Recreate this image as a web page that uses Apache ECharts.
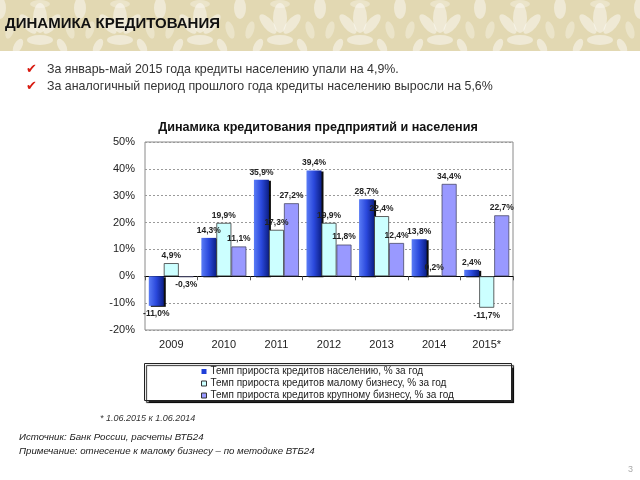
<!DOCTYPE html>
<html><head><meta charset="utf-8">
<script src="https://cdn.jsdelivr.net/npm/echarts@6/dist/echarts.min.js"></script>
<style>html,body{margin:0;padding:0;background:#fff}#c{width:640px;height:480px}</style>
</head><body><div id="c"></div>
<script>
const years = ['2009','2010','2011','2012','2013','2014','2015*'];
const population = [-11.0, 14.3, 35.9, 39.4, 28.7, 13.8, 2.4];
const smallBiz = [4.9, 19.9, 17.3, 19.9, 22.4, 0.2, -11.7];
const largeBiz = [-0.3, 11.1, 27.2, 11.8, 12.4, 34.4, 22.7];
const seriesNames = ['Темп прироста кредитов населению, % за год','Темп прироста кредитов малому бизнесу, % за год','Темп прироста кредитов крупному бизнесу, % за год'];

const FONT = 'Liberation Sans, Arial, sans-serif';
function fmt(v){ return v.toFixed(1).replace('.', ',') + '%'; }
function items(arr){
  return arr.map(v => ({ value: v, label: { position: v < 0 ? 'bottom' : 'top' } }));
}
// header pattern
const pc = document.createElement('canvas'); pc.width = 80; pc.height = 52;
const g = pc.getContext('2d');
g.fillStyle = '#e2d8b2'; g.fillRect(0,0,80,52);
g.fillStyle = 'rgba(255,255,255,0.45)';
function leaf(x,y,rx,ry,rot){ g.beginPath(); g.ellipse(x,y,rx,ry,rot,0,Math.PI*2); g.fill(); }
leaf(40,18,7,15,0); leaf(28,24,5,12,-0.7); leaf(52,24,5,12,0.7); leaf(40,40,13,5,0);
leaf(0,8,6,11,0); leaf(80,8,6,11,0); leaf(18,46,4,8,0.5); leaf(62,46,4,8,-0.5);
g.fillStyle = 'rgba(255,255,255,0.3)'; leaf(10,30,4,9,0.3); leaf(70,30,4,9,-0.3); leaf(40,4,10,4,0);

const labelCommon = { show: true, formatter: p => fmt(p.value), fontFamily: FONT, fontSize: 8.5, fontWeight: 'bold', color: '#222', distance: 3 };

const chart = echarts.init(document.getElementById('c'), null, { renderer: 'canvas' });
chart.setOption({
  animation: false,
  backgroundColor: '#fff',
  textStyle: { fontFamily: FONT },
  title: {
    text: 'Динамика кредитования предприятий и населения',
    left: 313, top: 116, textAlign: 'center',
    textStyle: { fontFamily: FONT, fontSize: 12.6, fontWeight: 'bold', color: '#111' }
  },
  grid: { left: 145, right: 127, top: 142, bottom: 150, show: true, borderColor: '#8a8a8a', borderWidth: 1 },
  xAxis: [
    { type: 'category', data: years, position: 'bottom',
      axisLine: { show: false, onZero: false }, axisTick: { show: false },
      axisLabel: { color: '#222', fontSize: 11, fontFamily: FONT, margin: 9 } },
    { type: 'category', data: years, position: 'bottom',
      axisLine: { show: true, onZero: true, lineStyle: { color: '#000', width: 1 } },
      axisTick: { show: true, length: 4, lineStyle: { color: '#555' } },
      axisLabel: { show: false } }
  ],
  yAxis: {
    type: 'value', min: -20, max: 50, interval: 10,
    axisLine: { show: false }, axisTick: { show: false },
    axisLabel: { formatter: '{value}%', color: '#222', fontSize: 11, fontFamily: FONT, margin: 10 },
    splitLine: { lineStyle: { color: '#9a9a9a', type: [2, 2], width: 1 } }
  },
  legend: {
    orient: 'vertical', left: 201, top: 366, padding: 0, itemWidth: 5, itemHeight: 5, itemGap: 1, z: 10,
    icon: 'rect',
    textStyle: { fontFamily: FONT, fontSize: 10, color: '#222', padding: [0,0,0,-1], lineHeight: 11 },
    data: [
      { name: seriesNames[0], itemStyle: { color: '#1f3fd8', borderWidth: 0 } },
      { name: seriesNames[1], itemStyle: { color: '#ccffff', borderColor: '#333', borderWidth: 1 } },
      { name: seriesNames[2], itemStyle: { color: '#9999ff', borderColor: '#333', borderWidth: 1 } }
    ]
  },
  series: [
    { name: seriesNames[0], type: 'bar', data: items(population), barWidth: 15, barGap: '0%',
      itemStyle: {
        color: new echarts.graphic.LinearGradient(0,0,1,0,[{offset:0,color:'#5a7cf6'},{offset:0.5,color:'#2a48dc'},{offset:1,color:'#0c1f86'}]),
        shadowColor: 'rgba(0,0,0,0.95)', shadowOffsetX: 2, shadowOffsetY: 1, shadowBlur: 0
      },
      label: labelCommon },
    { name: seriesNames[1], type: 'bar', data: items(smallBiz), barWidth: 15,
      itemStyle: { color: '#ccffff', borderColor: '#3a3a3a', borderWidth: 0.8 },
      label: labelCommon },
    { name: seriesNames[2], type: 'bar', data: items(largeBiz), barWidth: 15,
      itemStyle: { color: '#9999ff', borderColor: '#4a4a6a', borderWidth: 0.8 },
      label: labelCommon }
  ],
  graphic: [
    { type: 'rect', z: -10, shape: { x: 0, y: 0, width: 640, height: 51 },
      style: { fill: { image: pc, repeat: 'repeat' } } },
    { type: 'text', z: 5, left: 5, top: 16,
      style: { text: 'ДИНАМИКА КРЕДИТОВАНИЯ', font: 'bold 15px ' + FONT, fill: '#111' } },
    { type: 'text', z: 5, left: 26, top: 63,
      style: { text: '✔', font: '13px DejaVu Sans', fill: '#d81a10' } },
    { type: 'text', z: 5, left: 26, top: 80,
      style: { text: '✔', font: '13px DejaVu Sans', fill: '#d81a10' } },
    { type: 'text', z: 5, left: 47, top: 64,
      style: { text: 'За январь-май 2015 года кредиты населению упали на 4,9%.', font: '12.4px ' + FONT, fill: '#333' } },
    { type: 'text', z: 5, left: 47, top: 81,
      style: { text: 'За аналогичный период прошлого года кредиты населению выросли на 5,6%', font: '12.4px ' + FONT, fill: '#333' } },
    { type: 'rect', z: 1, shape: { x: 144.5, y: 363.5, width: 367, height: 37 },
      style: { fill: '#fff', stroke: '#222', lineWidth: 1, shadowColor: 'rgba(0,0,0,0.85)', shadowOffsetX: 2, shadowOffsetY: 2, shadowBlur: 1 } },
    { type: 'text', z: 5, left: 100, top: 414,
      style: { text: '* 1.06.2015 к 1.06.2014', font: 'italic 9px ' + FONT, fill: '#333' } },
    { type: 'text', z: 5, left: 19, top: 432,
      style: { text: 'Источник: Банк России, расчеты ВТБ24', font: 'italic 9.7px ' + FONT, fill: '#222' } },
    { type: 'text', z: 5, left: 19, top: 446,
      style: { text: 'Примечание: отнесение к малому бизнесу – по методике ВТБ24', font: 'italic 9.7px ' + FONT, fill: '#222' } },
    { type: 'text', z: 5, left: 628, top: 465,
      style: { text: '3', font: '9px ' + FONT, fill: '#aaa' } }
  ]
});
</script></body></html>
